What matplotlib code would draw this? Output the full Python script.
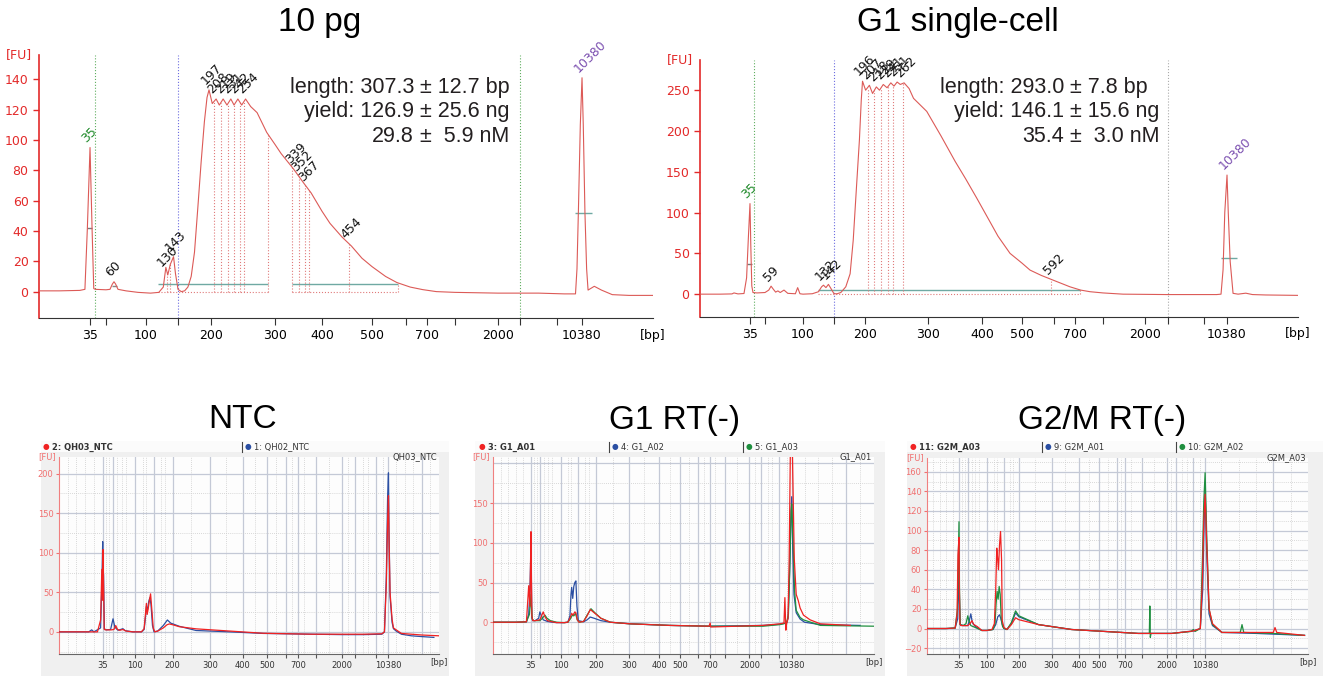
import numpy as np
import matplotlib.pyplot as plt
from matplotlib.patches import Rectangle
from matplotlib.lines import Line2D
from matplotlib.ticker import FixedLocator, FixedFormatter

plt.rcParams['font.family'] = ['DejaVu Sans']

# ladder sizes (bp) that define the electropherogram x axis
ladder_bp = [10, 35, 50, 100, 150, 200, 300, 400, 500, 600, 700, 1000, 2000, 3000, 7000, 10380, 40000]
labelled_bp = [35, 100, 200, 300, 400, 500, 700, 2000, 10380]
minor_bp = [15, 20, 25, 30, 40, 45, 60, 70, 80, 120, 130, 170, 180, 250, 350, 450, 550,
            650, 800, 1500, 2500, 4500, 5500, 9000, 15000, 20000, 25000, 35000]

# ---------------- 10 pg ----------------
pg10_bp = [10, 20, 30, 32.5, 33.7, 35, 36.9, 38.5, 40, 50, 55, 58, 60, 62, 65, 75, 90, 107, 120,
           127, 131, 134, 138, 143, 146, 150, 155, 160, 165, 170, 175, 180, 185, 190, 194, 197,
           202, 208, 213, 219, 225, 231, 236, 242, 248, 254, 262, 272, 287, 300, 313, 339, 360,
           377, 400, 416, 440, 459, 480, 500, 540, 573, 620, 680, 800, 1000, 2000, 5000, 8000,
           9500, 9700, 9900, 10150, 10380, 10900, 11600, 12300, 12900, 15500, 18500, 23000,
           30000, 40000]
pg10_fu = [0.5, 0.5, 0.8, 1.5, 42, 95, 42, 2, 1.5, 1.2, 1.5, 5, 6.5, 5, 1.5, 0.5, -0.5, -1, -0.5,
           3, 16, 11, 18, 23, 12, 1.5, 0, 0.5, 3, 10, 26, 55, 85, 112, 128, 133,
           124, 127, 123, 127, 123, 127, 123, 127, 123, 127, 122, 118, 105, 97, 91, 81, 72,
           65, 53, 45, 36, 30, 22, 16.5, 10, 6, 3, 1.3, 0, -0.5, -1, -1, -1.5,
           -1.5, 15, 55, 110, 141, 110, 52, 15, 1, 3.5, 1, -2,
           -2.5, -2.5]
pg10_peaks = [35, 60, 130, 143, 197, 208, 219, 231, 242, 254, 339, 352, 367, 454, 10380]
pg10_lines = [133, 138, 204, 215, 226, 236, 245, 252, 289, 336, 350, 364, 373, 454, 576]
pg10_regions = [(118, 289), (336, 576)]
pg10_stats = [('length: 307.3', '± 12.7 bp'), ('yield: 126.9', '± 25.6 ng'), ('29.8', '±  5.9 nM')]

# ---------------- G1 single-cell ----------------
g1sc_bp = [10, 20, 26, 27, 29, 32, 33.3, 34.2, 35, 35.8, 36.8, 38, 42, 50, 55, 58, 61, 64, 67, 70,
           75, 80, 90, 93, 96, 100, 115, 125, 130, 133, 137, 141, 145, 150, 155, 161, 169, 176,
           181, 186, 191, 194, 196, 201, 207, 212, 218, 223, 229, 235, 241, 246, 251, 256, 262,
           270, 277, 298, 324, 350, 370, 390, 415, 440, 470, 500, 525, 560, 592, 676,
           760, 861, 1000, 1476, 2950, 5000, 8866, 9500, 9800, 10050, 10380, 10900, 11700,
           12900, 15000, 18200, 21000, 26500, 40000]
g1sc_fu = [0, 0, 0.3, 1.5, 0.3, 0.8, 20, 70, 111, 60, 10, 2, 1.5, 2, 5, 9.8, 6, 2.5, 4, 2,
           5, 1, 0.5, 8, 0.5, 0, 0.5, 3, 9, 11, 8, 12, 7, 0.5, 0.5, 2, 9, 25,
           66, 128, 189, 238, 261, 250, 256, 246, 254, 250, 257, 253, 259, 255, 260, 257, 259,
           252, 240, 224, 194, 163, 141, 118, 93, 71, 50, 38, 29.5, 23, 18, 9,
           5, 3, 1.5, 0, -0.5, -0.5, -0.5, 0, 30, 100, 146, 100, 40,
           1, 0, 1.2, -0.5, -1, -1.5]
g1sc_peaks = [35, 59, 132, 142, 196, 207, 218, 229, 241, 251, 262, 592, 10380]
g1sc_lines = [204, 215, 225, 237, 245, 261, 592, 754]
g1sc_regions = [(124, 754)]
g1sc_stats = [('length: 293.0', '± 7.8 bp'), ('yield: 146.1', '± 15.6 ng'), ('35.4', '±  3.0 nM')]

# ---------------- NTC ----------------
ntc_red_bp = [10, 25, 32, 33.8, 34.5, 35, 35.6, 36.3, 37.3, 40, 48, 53, 57, 61, 66, 73, 80, 95, 117,
              124, 128, 130, 132, 135, 138, 141, 144, 148, 152, 160, 175, 185, 191, 200, 218, 263,
              361, 485, 944, 2000, 4600, 8600, 9300, 9800, 10150, 10380, 10700, 11300, 12500,
              13300, 14900, 18000, 23800, 30000, 40000]
ntc_red_fu = [0, 0, 0, 15, 79, 40, 104, 60, 3, 2.5, 2.5, 3, 8, 3, 2, 3, 1, 0, 0,
              4, 25, 36, 22, 30, 40, 48, 30, 5, 0, 1, 5, 9, 10, 9, 6.5, 3.8,
              1, -1.8, -3, -3, -3, -2.5, 0, 60, 140, 172, 120, 50, 16,
              5, 2.5, -2, -3, -4, -5]
ntc_blue_bp = [10, 27, 28.7, 30, 33.8, 34.5, 35, 35.6, 36.3, 37.5, 40, 47, 51, 55, 62, 68, 73, 78,
               95, 117, 124, 128, 130, 133, 136, 139, 142, 146, 150, 160, 175, 186, 195, 218, 263,
               361, 485, 944, 2000, 4600, 8600, 9300, 9800, 10150, 10380, 10700, 11300, 12500,
               13300, 14900, 18000, 23800, 30000, 37000]
ntc_blue_fu = [0, 0, 2.5, 0, 5, 60, 114, 80, 72, 4, 2.5, 3, 16.5, 6, 2, 3, 4, 1.5,
               0, 0, 3, 20, 32, 28, 38, 43, 35, 8, 0, 1, 8, 15, 11, 7, 1.7,
               0, -2, -3, -3.5, -3.5, -3, 0, 70, 170, 201, 130, 45, 12,
               4, 1, -3, -5, -6, -7]

# ---------------- G1 RT(-) ----------------
g1a01_bp = [10, 25, 32, 33.5, 34.3, 35, 35.7, 36.5, 38, 42, 50, 54, 58, 62, 68, 80, 90, 110, 120,
            126, 131, 135, 140, 143, 147, 152, 165, 175, 184, 195, 215, 243, 302, 450, 690, 700,
            710, 1500, 3500, 7200, 8300, 8550, 8800, 9000, 9400, 9700, 10050, 10380, 10700,
            11300, 12000, 12760, 13400, 14600, 17000, 20700, 31500]
g1a01_fu = [0, 0, 0.5, 46, 20, 114, 60, 8, 2, 2, 3, 8, 13, 7, 2, 0.5, -0.5, -0.5, 0,
            5, 11, 9, 13, 12, 3, 0, 1, 8, 16, 12, 5, 0, -2, -4, -5, -1,
            -6, -5, -4, -2, -1, 31, -10, -2, 5, 80, 230, 260, 200,
            80, 35, 27, 18, 9, 3, -2, -4]
g1a02_bp = [10, 25, 32, 33.5, 34.3, 35, 35.7, 36.5, 38, 42, 48, 50, 53, 58, 68, 80, 90, 110, 120,
            126, 129, 131, 134, 137, 140, 143, 146, 150, 165, 175, 184, 195, 215, 243, 302, 450,
            700, 1500, 3500, 7200, 9000, 9400, 9800, 10150, 10380, 10700, 11200, 12000, 13400,
            15000, 20700, 35000]
g1a02_fu = [0, 0, 0.5, 10, 40, 95, 50, 6, 2, 2, 5, 13, 9, 3, 1, 0, -0.5, -0.5, 0,
            8, 35, 44, 30, 45, 50, 52, 20, 2, 0.5, 3, 6.5, 5, 2, 0, -2, -4,
            -5, -4.5, -4, -2.5, -1, 5, 60, 130, 158, 100, 35, 12, 4,
            0, -3, -4]
g1a03_bp = [10, 25, 32, 34, 35, 35.8, 37, 40, 50, 56, 62, 67, 75, 90, 110, 120, 127, 133, 137, 142,
            147, 152, 165, 175, 186, 197, 215, 243, 302, 450, 700, 1500, 3500, 7200, 9000, 9500,
            9900, 10200, 10380, 10800, 11400, 12000, 13400, 14600, 20700, 40000]
g1a03_fu = [0, 0, 0.5, 10, 35, 20, 4, 2, 2, 5, 9, 5, 2, 0, -0.5, 0, 4, 9, 8, 11,
            3, 0, 1, 9, 17, 12, 5, 0, -2, -4, -5, -5, -5, -3, -1, 10,
            75, 140, 149, 110, 40, 15, 6, 3, -4, -5]

# ---------------- G2/M RT(-) ----------------
g2m03_bp = [10, 25, 32, 33.5, 34.2, 35, 35.7, 36.5, 38, 42, 50, 56, 61, 66, 75, 87, 100, 115, 122,
            126, 129, 131, 134, 137, 140, 143, 145, 150, 160, 175, 189, 200, 260, 372, 533, 930,
            2550, 7000, 9000, 9600, 10000, 10380, 10800, 11530, 12500, 15200, 21000, 30000,
            30500, 31000, 39000]
g2m03_fu = [0, 0, 0.5, 15, 75, 93, 40, 5, 3, 3, 3, 5, 8, 4, 2, -2, -2, -1, 5,
            40, 82, 74, 60, 85, 99, 70, 8, 1, -1, 4, 11, 9, 4, -1, -3, -5,
            -5, -2.5, 0, 50, 110, 137, 90, 20, 5, -4, -4, -4,
            1, -4, -7]
g2m01_bp = [10, 25, 32, 34, 35, 35.8, 37, 42, 50, 54, 58, 62, 70, 87, 100, 118, 126, 132, 137, 141,
            145, 150, 160, 175, 189, 200, 260, 372, 533, 930, 2550, 7000, 9000, 9700, 10100,
            10380, 10800, 11500, 12500, 15200, 25000, 39000]
g2m01_fu = [0, 0, 0.5, 10, 62, 30, 4, 3, 3, 8, 15, 6, 2, -2, -2, -1, 4, 12, 14, 10,
            4, 0, -1, 5, 16, 12, 4, -1, -3, -5, -5, -2.5, 0, 40, 110,
            145, 80, 15, 3, -4, -5, -7]
g2m02_bp = [10, 25, 32, 33.8, 35, 35.8, 37, 42, 47, 50, 53, 58, 70, 87, 100, 118, 124, 127, 130,
            133, 136, 139, 142, 146, 150, 160, 175, 189, 200, 260, 372, 533, 930, 1290, 1310,
            1330, 1360, 1500, 2550, 6500, 7000, 7500, 9000, 9600, 10000, 10380, 10800, 11500,
            12500, 15200, 20500, 21000, 21500, 30000, 39000]
g2m02_fu = [0, 0, 0.5, 20, 109, 40, 4, 3, 5, 13, 8, 3, 1, -2, -2, -1, 5, 25, 38,
            30, 43, 35, 10, 2, 0, -1, 6, 18, 13, 4, -1, -3, -5, -5, 23,
            -9, -5, -5, -5, -3, -1, -3, 0, 70, 130, 159, 100, 20,
            4, -4, -4, 4, -4, -5, -7]

# where each ladder size sits along the axis (fraction of axis width)
pos_top_left = [0, .0831, .1091, .1743, .2264, .2801, .3844, .4609, .5423, .5977, .6319, .6775,
                .7476, .7834, .8436, .8844, 1]
pos_top_right = [0, .0836, .1087, .1722, .2241, .2759, .3813, .4716, .5385, .5920, .6271, .6739,
                 .7441, .7826, .8428, .8813, 1]
pos_ntc = [0, .115, .141, .2, .25, .299, .397, .483, .547, .597, .63, .676, .744, .779, .834, .867, 1]
pos_g1 = [0, .0997, .123, .178, .224, .27, .358, .436, .491, .539, .57, .609, .673, .703, .751, .784, 1]
pos_g2m = [0, .084, .107, .157, .202, .241, .327, .4, .452, .498, .52, .565, .629, .653, .699, .73, 1]

W, H = 1324, 677
fig = plt.figure(figsize=(W / 100, H / 100), dpi=100)
SMALL = ['Liberation Sans Narrow', 'DejaVu Sans']


def rect(x0, y0, x1, y1):
    return [x0 / W, 1 - y1 / H, (x1 - x0) / W, (y1 - y0) / H]


def set_ladder(ax, pos):
    xp = np.array(ladder_bp, float)
    fp = np.array(pos, float)
    ax.set_xscale('function', functions=(lambda x: np.interp(x, xp, fp),
                                         lambda p: np.interp(p, fp, xp)))
    ax.set_xlim(xp[0], xp[-1])
    ticks = ladder_bp[1:-1]
    ax.xaxis.set_major_locator(FixedLocator(ticks))
    ax.xaxis.set_major_formatter(FixedFormatter([str(t) if t in labelled_bp else '' for t in ticks]))
    ax.xaxis.set_minor_locator(FixedLocator([]))


RED = '#e32a2a'
TRACE = '#dc5a57'
TEAL = '#6fa9a3'


def top_panel(r, pos, bp, fu, ylim, ystep, peaks, lines, regions, marks, refs):
    ax = fig.add_axes(rect(*r))
    set_ladder(ax, pos)
    ax.set_ylim(*ylim)
    ax.set_yticks(np.arange(0, ylim[1], ystep))
    for s in ['top', 'right']:
        ax.spines[s].set_visible(False)
    ax.spines['left'].set_color(RED)
    ax.spines['left'].set_linewidth(1.2)
    ax.spines['bottom'].set_color('#333333')
    ax.tick_params(axis='y', colors=RED, labelsize=9, length=4, width=1)
    ax.tick_params(axis='x', colors='#333333', labelcolor='black', labelsize=9, length=5, pad=3)
    for b, c in refs:
        ax.axvline(b, color=c, ls=':', lw=0.8, zorder=1)
    for a, b in regions:
        ax.hlines(5, a, b, color=TEAL, lw=1, zorder=2)
        ax.hlines(0, a, b, color='#e07a7a', lw=0.8, ls=':', zorder=2)
    ax.vlines(lines, 0, np.interp(lines, bp, fu), colors='#e07a7a', linestyles=':', lw=0.8, zorder=2)
    for a, b, y, c in marks:
        ax.hlines(y, a, b, color=c, lw=1, zorder=3)
    ax.plot(bp, fu, color=TRACE, lw=0.8, zorder=4)
    for p in peaks:
        col = '#1f8a2a' if p == 35 else ('#7b4fb0' if p == 10380 else '#111111')
        ax.annotate(str(p), (p, np.interp(p, bp, fu)), xytext=(-1, 2), textcoords='offset points',
                    rotation=45, rotation_mode='anchor', ha='left', va='bottom', fontsize=9, color=col)
    ax.text(-0.012, 1.0, '[FU]', transform=ax.transAxes, ha='right', va='center', color=RED, fontsize=9)
    ax.text(1.0, -0.065, '[bp]', transform=ax.transAxes, ha='center', va='center', fontsize=9)
    return ax


top_panel((39, 55, 653, 318), pos_top_left, pg10_bp, pg10_fu, (-17.4, 156), 20,
          pg10_peaks, pg10_lines, pg10_regions,
          [(33.3, 37.3, 42, '#777777'), (57, 63.5, 4, '#888888'), (9400, 14400, 52, TEAL)],
          [(40, '#5fae5f'), (150, '#6c6ce0'), (3000, '#5fae5f')])
top_panel((700, 60, 1298, 317), pos_top_right, g1sc_bp, g1sc_fu, (-28, 287), 50,
          g1sc_peaks, g1sc_lines, g1sc_regions,
          [(33.5, 37, 37, '#777777'), (9500, 14500, 44, TEAL)],
          [(39, '#5fae5f'), (150, '#6c6ce0'), (3000, '#aaaaaa')])

for title, x in [('10 pg', 320), ('G1 single-cell', 958)]:
    fig.text(x / W, 1 - 22 / H, title, ha='center', va='center', fontsize=24, family='Liberation Sans')

for stats, pm_x in [(pg10_stats, 420), (g1sc_stats, 1070)]:
    for i, (left, right) in enumerate(stats):
        y = 1 - (88 + 24 * i) / H
        fig.text((pm_x - 6) / W, y, left, ha='right', va='center', fontsize=15.5,
                 family='Liberation Sans', color='#231f20')
        fig.text(pm_x / W, y, right, ha='left', va='center', fontsize=15.5,
                 family='Liberation Sans', color='#231f20')


def bottom_panel(box, r, pos, traces, ylim, ylabels, ymajor, yminor, name, legend, seps):
    fig.add_artist(Rectangle((box[0] / W, 1 - box[3] / H), (box[2] - box[0]) / W, (box[3] - box[1]) / H,
                             transform=fig.transFigure, facecolor='#f0f0f0', edgecolor='none', zorder=-2))
    fig.add_artist(Rectangle((box[0] / W, 1 - (box[1] + 11) / H), (box[2] - box[0]) / W, 11 / H,
                             transform=fig.transFigure, facecolor='#fbfbfb', edgecolor='none', zorder=-1))
    ax = fig.add_axes(rect(*r))
    ax.set_facecolor('#fdfdfd')
    set_ladder(ax, pos)
    ax.set_ylim(*ylim)
    ax.set_yticks(ylabels)
    for s in ['top', 'right']:
        ax.spines[s].set_visible(False)
    ax.spines['left'].set_color('#f08080')
    ax.spines['bottom'].set_color('#666666')
    ax.tick_params(axis='y', colors='#f07070', labelsize=6, length=2.5, width=0.8, pad=1.5)
    ax.tick_params(axis='x', colors='#555555', labelcolor='#333333', labelsize=6, length=3, pad=2)
    for lab in ax.get_xticklabels() + ax.get_yticklabels():
        lab.set_family(SMALL)
    for b in ladder_bp[1:-1] + [30000]:
        ax.axvline(b, color='#c4c9d6', lw=0.9, zorder=0)
    for b in minor_bp:
        ax.axvline(b, color='#cccccc', lw=0.6, ls=(0, (1, 1.5)), zorder=0)
    for v in ymajor:
        ax.axhline(v, color='#c4c9d6', lw=0.9, zorder=0)
    for v in yminor:
        ax.axhline(v, color='#cccccc', lw=0.6, ls=(0, (1, 1.5)), zorder=0)
    for bp, fu, c in traces:
        ax.plot(bp, fu, color=c, lw=0.9, zorder=3)
    ax.text(-0.008, 1.0, '[FU]', transform=ax.transAxes, ha='right', va='center', color='#f07070',
            fontsize=6, family=SMALL)
    ax.text(1.0, -0.045, '[bp]', transform=ax.transAxes, ha='center', va='center', color='#333333',
            fontsize=6, family=SMALL)
    ax.text(0.995, 1.0, name, transform=ax.transAxes, ha='right', va='center', color='#333333',
            fontsize=6, family=SMALL)
    yl = 1 - (box[1] + 6) / H
    for i, (x, label, c) in enumerate(legend):
        fig.text(x / W, yl, '●', color=c, fontsize=5.5, ha='center', va='center')
        fig.text((x + 6) / W, yl, label, color='#333333', fontsize=6, ha='left', va='center',
                 family=SMALL, weight='bold' if i == 0 else 'normal')
    for x in seps:
        fig.add_artist(Line2D([x / W, x / W], [1 - (box[1] + 1) / H, 1 - (box[1] + 11) / H],
                              transform=fig.transFigure, color='#444444', lw=0.8))


BRED, BBLUE, BGREEN = '#f02222', '#2b4fa3', '#1f8f3f'
bottom_panel((41, 441, 449, 676), (59, 457, 439, 654), pos_ntc,
             [(ntc_blue_bp, ntc_blue_fu, BBLUE), (ntc_red_bp, ntc_red_fu, BRED)],
             (-28, 221), [0, 50, 100, 150, 200], [0, 50, 100, 150, 200], [-25, 25, 75, 125, 175],
             'QH03_NTC', [(46, '2: QH03_NTC', BRED), (248, '1: QH02_NTC', BBLUE)], [242])
bottom_panel((475, 441, 885, 676), (493, 457, 874, 654), pos_g1,
             [(g1a02_bp, g1a02_fu, BBLUE), (g1a03_bp, g1a03_fu, BGREEN), (g1a01_bp, g1a01_fu, BRED)],
             (-40, 208), [0, 50, 100, 150], [0, 50, 100, 150, 200], [-25, 25, 75, 125, 175],
             'G1_A01', [(482, '3: G1_A01', BRED), (615, '4: G1_A02', BBLUE), (749, '5: G1_A03', BGREEN)],
             [609, 743])
bottom_panel((907, 441, 1323, 676), (927, 458, 1308, 654), pos_g2m,
             [(g2m01_bp, g2m01_fu, BBLUE), (g2m02_bp, g2m02_fu, BGREEN), (g2m03_bp, g2m03_fu, BRED)],
             (-26, 174), list(range(-20, 161, 20)), list(range(-20, 161, 20)), list(range(-10, 171, 20)),
             'G2M_A03', [(913, '11: G2M_A03', BRED), (1048, '9: G2M_A01', BBLUE), (1182, '10: G2M_A02', BGREEN)],
             [1042, 1176])

for title, x in [('NTC', 243), ('G1 RT(-)', 675), ('G2/M RT(-)', 1102)]:
    fig.text(x / W, 1 - 420 / H, title, ha='center', va='center', fontsize=24, family='Liberation Sans')

fig.savefig('out.png', dpi=100)
